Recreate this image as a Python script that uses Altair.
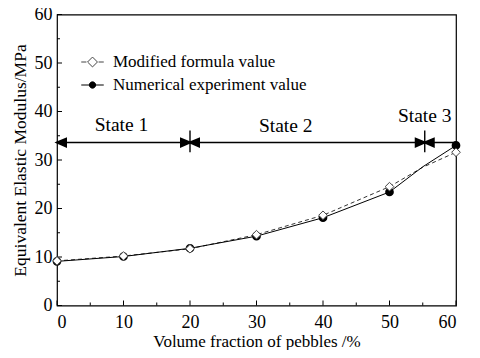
import altair as alt
import pandas as pd

# ---- data ----
x_marker = [0, 10, 20, 30, 40, 50, 60]
modified = [9.2, 10.2, 11.7, 14.6, 18.6, 24.5, 31.6]
numerical = [9.1, 10.1, 11.8, 14.3, 18.1, 23.4, 33.0]
x_line = [0, 10, 20, 30, 40, 50, 55, 60]
modified_line = [9.2, 10.2, 11.7, 14.6, 18.6, 24.5, 28.5, 31.6]
numerical_line = [9.1, 10.1, 11.8, 14.3, 18.1, 23.4, 28.6, 33.0]
series = ["Modified formula value", "Numerical experiment value"]

state_labels = ["State 1", "State 2", "State 3"]
state_x = [9.7, 34.4, 55.3]
state_y = [37.3, 37.1, 39.0]
arrow_y = [33.6]
arrow_x_start = [0]
arrow_x_end = [60]
divider_x = [20, 55.3]
divider_y_low = [31.6, 31.6]
divider_y_high = [36.1, 36.1]
head_x = [0, 20, 20, 55.3, 55.3]
head_dir = ["left", "right", "left", "right", "left"]

major_ticks = [0, 10, 20, 30, 40, 50, 60]
minor_ticks = [5, 15, 25, 35, 45, 55]

FONT = "Times New Roman, Liberation Serif, serif"
W, H = 399, 291

pts = pd.DataFrame({
    "x": x_marker * 2,
    "y": modified + numerical,
    "s": [series[0]] * len(x_marker) + [series[1]] * len(x_marker),
})
lines = pd.DataFrame({
    "x": x_line * 2,
    "y": modified_line + numerical_line,
    "s": [series[0]] * len(x_line) + [series[1]] * len(x_line),
})
states = pd.DataFrame({"label": state_labels, "x": state_x, "y": state_y})
arrow = pd.DataFrame({"x": arrow_x_start, "x2": arrow_x_end, "y": arrow_y})
dividers = pd.DataFrame({"x": divider_x, "y": divider_y_low, "y2": divider_y_high})
heads = pd.DataFrame({"x": head_x, "dir": head_dir, "y": arrow_y * len(head_x)})
legend_df = pd.DataFrame({"s": series})
maj = pd.DataFrame({"v": major_ticks})
mino = pd.DataFrame({"v": minor_ticks})

xscale = alt.Scale(domain=[0, 60], nice=False, zero=False)
yscale = alt.Scale(domain=[0, 60], nice=False, zero=False)

xaxis = alt.Axis(values=major_ticks, title="Volume fraction of pebbles /%", ticks=False,
                 tickSize=0, domain=False, grid=False, labelPadding=8, titlePadding=2,
                 labelFont=FONT, labelFontSize=18, titleFont=FONT, titleFontSize=17,
                 titleFontWeight="normal", labelColor="black", titleColor="black", format="d")
yaxis = alt.Axis(values=major_ticks, title="Equivalent Elastic Modulus/MPa", ticks=False,
                 tickSize=0, domain=False, grid=False, labelPadding=5, titlePadding=5,
                 labelFont=FONT, labelFontSize=18, titleFont=FONT, titleFontSize=17.5,
                 titleFontWeight="normal", labelColor="black", titleColor="black", format="d")

base_pts = alt.Chart(pts)
base_lines = alt.Chart(lines)

axes_layer = alt.Chart(maj).mark_point(opacity=0).encode(
    x=alt.X("v:Q", scale=xscale, axis=xaxis),
    y=alt.Y("v:Q", scale=yscale, axis=yaxis),
)

line_mod = base_lines.transform_filter(alt.datum.s == series[0]).mark_line(
    color="#333333", strokeWidth=1, strokeDash=[4, 3]
).encode(x=alt.X("x:Q", scale=xscale), y=alt.Y("y:Q", scale=yscale))
line_num = base_lines.transform_filter(alt.datum.s == series[1]).mark_line(
    color="black", strokeWidth=1
).encode(x=alt.X("x:Q", scale=xscale), y=alt.Y("y:Q", scale=yscale))

pt_num = base_pts.transform_filter(alt.datum.s == series[1]).mark_point(
    shape="circle", filled=True, fill="black", stroke="black", size=45, opacity=1
).encode(x=alt.X("x:Q", scale=xscale), y=alt.Y("y:Q", scale=yscale))
pt_mod = base_pts.transform_filter(alt.datum.s == series[0]).mark_point(
    shape="diamond", filled=True, fill="white", stroke="#444444", strokeWidth=1, size=75, opacity=1
).encode(x=alt.X("x:Q", scale=xscale), y=alt.Y("y:Q", scale=yscale))

path_mod = "M-2.5,0H-1.35M1.35,0H2.5M0,-1.1L1.1,0L0,1.1L-1.1,0Z"
path_num = "M-2.5,0H2.5M0.7,0A0.7,0.7,0,1,1,-0.7,0A0.7,0.7,0,1,1,0.7,0Z"

legend_layer = alt.Chart(legend_df).mark_point(filled=True, opacity=1, clip=True, strokeWidth=1).encode(
    x=alt.value(-200), y=alt.value(-200),
    shape=alt.Shape("s:N", scale=alt.Scale(domain=series, range=[path_mod, path_num]),
                    legend=alt.Legend(title=None, orient="none", legendX=27, legendY=39,
                                      symbolSize=81, symbolStrokeWidth=1, labelOffset=12,
                                      labelFont=FONT, labelFontSize=17, labelColor="black",
                                      rowPadding=5, padding=0, symbolOpacity=1, labelLimit=400)),
    fill=alt.Fill("s:N", scale=alt.Scale(domain=series, range=["white", "black"])),
    stroke=alt.Stroke("s:N", scale=alt.Scale(domain=series, range=["#444444", "black"])),
)

arrow_layer = alt.Chart(arrow).mark_rule(color="black", strokeWidth=1.6).encode(
    x=alt.X("x:Q", scale=xscale), x2="x2:Q", y=alt.Y("y:Q", scale=yscale))
divider_layer = alt.Chart(dividers).mark_rule(color="black", strokeWidth=1.4).encode(
    x=alt.X("x:Q", scale=xscale), y=alt.Y("y:Q", scale=yscale), y2="y2:Q")
head_r = alt.Chart(heads).transform_filter(alt.datum.dir == "right").mark_point(
    shape="M0,0L-2,-0.85L-2,0.85Z", filled=True, fill="black", stroke="black", size=81, opacity=1
).encode(x=alt.X("x:Q", scale=xscale), y=alt.Y("y:Q", scale=yscale))
head_l = alt.Chart(heads).transform_filter(alt.datum.dir == "left").mark_point(
    shape="M0,0L2,-0.85L2,0.85Z", filled=True, fill="black", stroke="black", size=81, opacity=1
).encode(x=alt.X("x:Q", scale=xscale), y=alt.Y("y:Q", scale=yscale))

state_layer = alt.Chart(states).mark_text(font=FONT, fontSize=19.5, color="black",
                                          align="center", baseline="middle").encode(
    x=alt.X("x:Q", scale=xscale), y=alt.Y("y:Q", scale=yscale), text="label:N")

ytick_major = alt.Chart(maj).mark_rule(color="black", strokeWidth=1).encode(
    y=alt.Y("v:Q", scale=yscale), x=alt.value(0), x2=alt.value(5))
ytick_minor = alt.Chart(mino).mark_rule(color="black", strokeWidth=1).encode(
    y=alt.Y("v:Q", scale=yscale), x=alt.value(0), x2=alt.value(3))
xtick_major = alt.Chart(maj).mark_rule(color="black", strokeWidth=1).encode(
    x=alt.X("v:Q", scale=xscale), y=alt.value(H), y2=alt.value(H - 5))
xtick_minor = alt.Chart(mino).mark_rule(color="black", strokeWidth=1).encode(
    x=alt.X("v:Q", scale=xscale), y=alt.value(H), y2=alt.value(H - 3))

chart = alt.layer(
    axes_layer, ytick_major, ytick_minor, xtick_major, xtick_minor,
    arrow_layer, divider_layer, head_r, head_l, state_layer,
    line_mod, line_num, pt_num, pt_mod, legend_layer,
).properties(
    width=W, height=H,
    autosize=alt.AutoSizeParams(type="none"),
    padding={"left": 49, "top": 6.5, "right": 16, "bottom": 44.5},
    background="white",
).configure(font=FONT).configure_view(stroke="black", strokeWidth=1.2)

chart.save("out.html", embed_options={"renderer": "svg", "actions": False})
